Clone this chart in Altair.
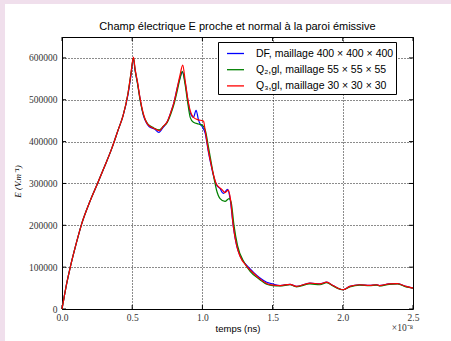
import altair as alt
import pandas as pd

# ---- data (time in units of 1e-8 s, field E in V/m) ----
series_names = [
    "DF, maillage 400 × 400 × 400",
    "Q₂,gl, maillage 55 × 55 × 55",
    "Q₃,gl, maillage 30 × 30 × 30",
]
series_colors = ["#0000ff", "#008000", "#ff0000"]

t_blue = [0, 0.015, 0.03, 0.059, 0.1, 0.137, 0.2, 0.253, 0.3, 0.356, 0.4, 0.435, 0.47, 0.49, 0.509,
          0.52, 0.538, 0.557, 0.58, 0.6, 0.62, 0.66, 0.69, 0.72, 0.75, 0.775, 0.8, 0.82, 0.84, 0.857,
          0.877, 0.894, 0.913, 0.936, 0.955, 0.972, 0.984, 1.0, 1.02, 1.043, 1.067, 1.078, 1.1, 1.125,
          1.149, 1.18, 1.198, 1.22, 1.245, 1.268, 1.316, 1.363, 1.41, 1.458, 1.5, 1.553, 1.624, 1.67,
          1.766, 1.837, 1.885, 1.93, 2.0, 2.05, 2.12, 2.19, 2.24, 2.26, 2.33, 2.39, 2.45, 2.5]
E_blue = [0, 28000, 55000, 100000, 155000, 200000, 258000, 300000, 338000, 385000, 428000, 462000,
          512000, 555000, 598000, 572000, 540000, 500000, 462000, 446000, 436000, 430000, 422000,
          434000, 448000, 470000, 497000, 527000, 552000, 566000, 542000, 504000, 470000, 458000,
          475000, 452000, 442000, 435000, 420000, 375000, 336000, 320000, 297000, 288000, 276000,
          286000, 262000, 198000, 150000, 127000, 104000, 88000, 74000, 64000, 60000, 56000, 59000,
          54000, 62000, 60000, 64000, 56000, 46000, 54000, 58000, 56500, 58000, 56000, 60000, 60500,
          54000, 50000]

t_green = [0, 0.015, 0.03, 0.059, 0.1, 0.137, 0.2, 0.253, 0.3, 0.356, 0.4, 0.435, 0.47, 0.49, 0.509,
           0.52, 0.538, 0.557, 0.58, 0.609, 0.652, 0.694, 0.72, 0.75, 0.775, 0.8, 0.82, 0.84, 0.857,
           0.877, 0.894, 0.913, 0.936, 0.972, 0.996, 1.02, 1.045, 1.067, 1.09, 1.1, 1.126, 1.161,
           1.19, 1.205, 1.225, 1.25, 1.3, 1.34, 1.41, 1.458, 1.5, 1.553, 1.624, 1.67, 1.766, 1.837,
           1.885, 1.93, 2.0, 2.05, 2.12, 2.19, 2.24, 2.26, 2.33, 2.39, 2.45, 2.5]
E_green = [0, 28000, 55000, 100000, 155000, 200000, 258000, 300000, 338000, 385000, 428000, 462000,
           515000, 560000, 600000, 572000, 538000, 498000, 464000, 443000, 433000, 428000, 436000,
           446000, 466000, 492000, 520000, 550000, 568000, 536000, 496000, 458000, 446000, 442000,
           440000, 428000, 384000, 342000, 300000, 285000, 264000, 257000, 264000, 255000, 200000,
           152000, 110000, 90000, 70000, 59000, 56000, 55000, 58000, 53000, 60000, 58000, 63000,
           55000, 46000, 53000, 57000, 56000, 57000, 55000, 59000, 60000, 53000, 50000]

t_red = [0, 0.015, 0.03, 0.059, 0.1, 0.137, 0.2, 0.253, 0.3, 0.356, 0.4, 0.435, 0.47, 0.49, 0.509,
         0.52, 0.538, 0.557, 0.58, 0.609, 0.652, 0.694, 0.72, 0.75, 0.775, 0.8, 0.82, 0.84, 0.86,
         0.877, 0.894, 0.913, 0.936, 0.972, 1.0, 1.008, 1.02, 1.043, 1.067, 1.078, 1.1, 1.138, 1.161,
         1.185, 1.2, 1.22, 1.245, 1.268, 1.316, 1.363, 1.41, 1.458, 1.493, 1.553, 1.624, 1.67, 1.766,
         1.837, 1.885, 1.93, 2.0, 2.05, 2.12, 2.19, 2.24, 2.26, 2.33, 2.39, 2.45, 2.5]
E_red = [0, 28000, 55000, 100000, 155000, 200000, 258000, 300000, 338000, 385000, 428000, 462000,
         515000, 560000, 602000, 575000, 542000, 502000, 466000, 442000, 432000, 426000, 436000,
         448000, 470000, 497000, 527000, 558000, 583000, 546000, 506000, 474000, 458000, 452000,
         450000, 449000, 426000, 378000, 338000, 322000, 298000, 286000, 278000, 284000, 262000,
         198000, 150000, 126000, 102000, 86000, 72000, 61000, 57500, 56000, 59000, 54000, 62000,
         60000, 64000, 56000, 46000, 54000, 58000, 56500, 58000, 56000, 60000, 60500, 54000, 50000]

x_ticks = [0.0, 0.5, 1.0, 1.5, 2.0, 2.5]
y_ticks = [0, 100000, 200000, 300000, 400000, 500000, 600000]

title_text = "Champ électrique E proche et normal à la paroi émissive"
x_title = "temps (ns)"
y_title = "E (V.m⁻¹)"
offset_text = "×10⁻⁸"

rows = []
for name, ts, es in zip(series_names, [t_blue, t_green, t_red], [E_blue, E_green, E_red]):
    for i, (t, e) in enumerate(zip(ts, es)):
        rows.append({"serie": name, "t": t, "E": e, "i": i})
df = pd.DataFrame(rows)

W, H = 351, 272
TICK = 4
pink = "#f0dfec"

xs = alt.Scale(domain=[0, 2.5], nice=False)
ys = alt.Scale(domain=[0, 650000], nice=False)

lines = alt.Chart(df).mark_line(strokeWidth=1.2, interpolate="monotone").encode(
    x=alt.X("t:Q", scale=xs,
            axis=alt.Axis(values=x_ticks, format=".1f", title=x_title, labelFlush=False,
                          titleFont="Liberation Sans", titleFontSize=9.5, titleFontWeight="normal",
                          titleX=W / 2, titleY=19, titleBaseline="middle", titleAlign="center")),
    y=alt.Y("E:Q", scale=ys,
            axis=alt.Axis(values=y_ticks, format="d", title=y_title, labelFlush=False,
                          titleFont="Liberation Serif", titleFontStyle="italic", titleFontSize=9,
                          titleFontWeight="normal", titleAngle=-90, titleX=-45, titleY=H / 2 + 8,
                          titleBaseline="middle", titleAlign="center")),
    color=alt.Color("serie:N", scale=alt.Scale(domain=series_names, range=series_colors),
                    legend=alt.Legend(title=None, orient="none", legendX=156, legendY=5)),
    order="i:Q",
)

# inward tick marks on all four sides (matplotlib style)
xt = pd.DataFrame({"t": x_ticks})
yt = pd.DataFrame({"E": y_ticks})
xtick_b = alt.Chart(xt).mark_rule(color="black", strokeWidth=1).encode(
    x=alt.X("t:Q", scale=xs), y=alt.value(H), y2=alt.value(H - TICK))
xtick_t = alt.Chart(xt).mark_rule(color="black", strokeWidth=1).encode(
    x=alt.X("t:Q", scale=xs), y=alt.value(0), y2=alt.value(TICK))
ytick_l = alt.Chart(yt).mark_rule(color="black", strokeWidth=1).encode(
    y=alt.Y("E:Q", scale=ys), x=alt.value(0), x2=alt.value(TICK))
ytick_r = alt.Chart(yt).mark_rule(color="black", strokeWidth=1).encode(
    y=alt.Y("E:Q", scale=ys), x=alt.value(W), x2=alt.value(W - TICK))

offset_label = alt.Chart(pd.DataFrame({"txt": [offset_text]})).mark_text(
    align="right", baseline="middle", font="Liberation Serif", fontSize=9.5, color="#333333"
).encode(x=alt.datum(2.5), y=alt.value(H + 19), text="txt:N")

title_mark = alt.Chart(pd.DataFrame({"txt": [title_text]})).mark_text(
    align="center", baseline="middle", font="Liberation Sans", fontSize=11, color="black"
).encode(x=alt.value(W / 2), y=alt.value(-10), text="txt:N")

frame_df = pd.DataFrame({"k": [0]})
left_strip = alt.Chart(frame_df).mark_rect(color=pink).encode(
    x=alt.value(-62), x2=alt.value(-57), y=alt.value(-37), y2=alt.value(H + 32))
top_strip = alt.Chart(frame_df).mark_rect(color=pink).encode(
    x=alt.value(-62), x2=alt.value(W + 38), y=alt.value(-37), y2=alt.value(-33))

chart = alt.layer(left_strip, top_strip, xtick_b, xtick_t, ytick_l, ytick_r,
                  lines, offset_label, title_mark).properties(
    width=W, height=H,
    autosize=alt.AutoSizeParams(type="none"),
    padding={"left": 62, "top": 37, "right": 38, "bottom": 32},
    background="white",
).configure_view(
    stroke="black", strokeWidth=1, fill="white"
).configure_axis(
    grid=True, gridColor="black", gridDash=[1, 2], gridOpacity=0.9, gridWidth=1,
    domain=False, ticks=False,
    labelFont="Liberation Serif", labelFontSize=9.5, labelColor="#333333", labelPadding=4,
    titleColor="black",
).configure_axisY(labelPadding=5).configure_axisX(labelPadding=3).configure_legend(
    fillColor="white", strokeColor="black", strokeWidth=1, padding=2, cornerRadius=0,
    symbolType="stroke", symbolSize=289, symbolStrokeWidth=1.3, symbolOffset=6,
    labelFont="Liberation Sans", labelFontSize=10.5, labelOffset=11, labelColor="black",
    rowPadding=1.2, labelLimit=300,
)

chart.save("out.html", embed_options={"renderer": "svg", "actions": False})
